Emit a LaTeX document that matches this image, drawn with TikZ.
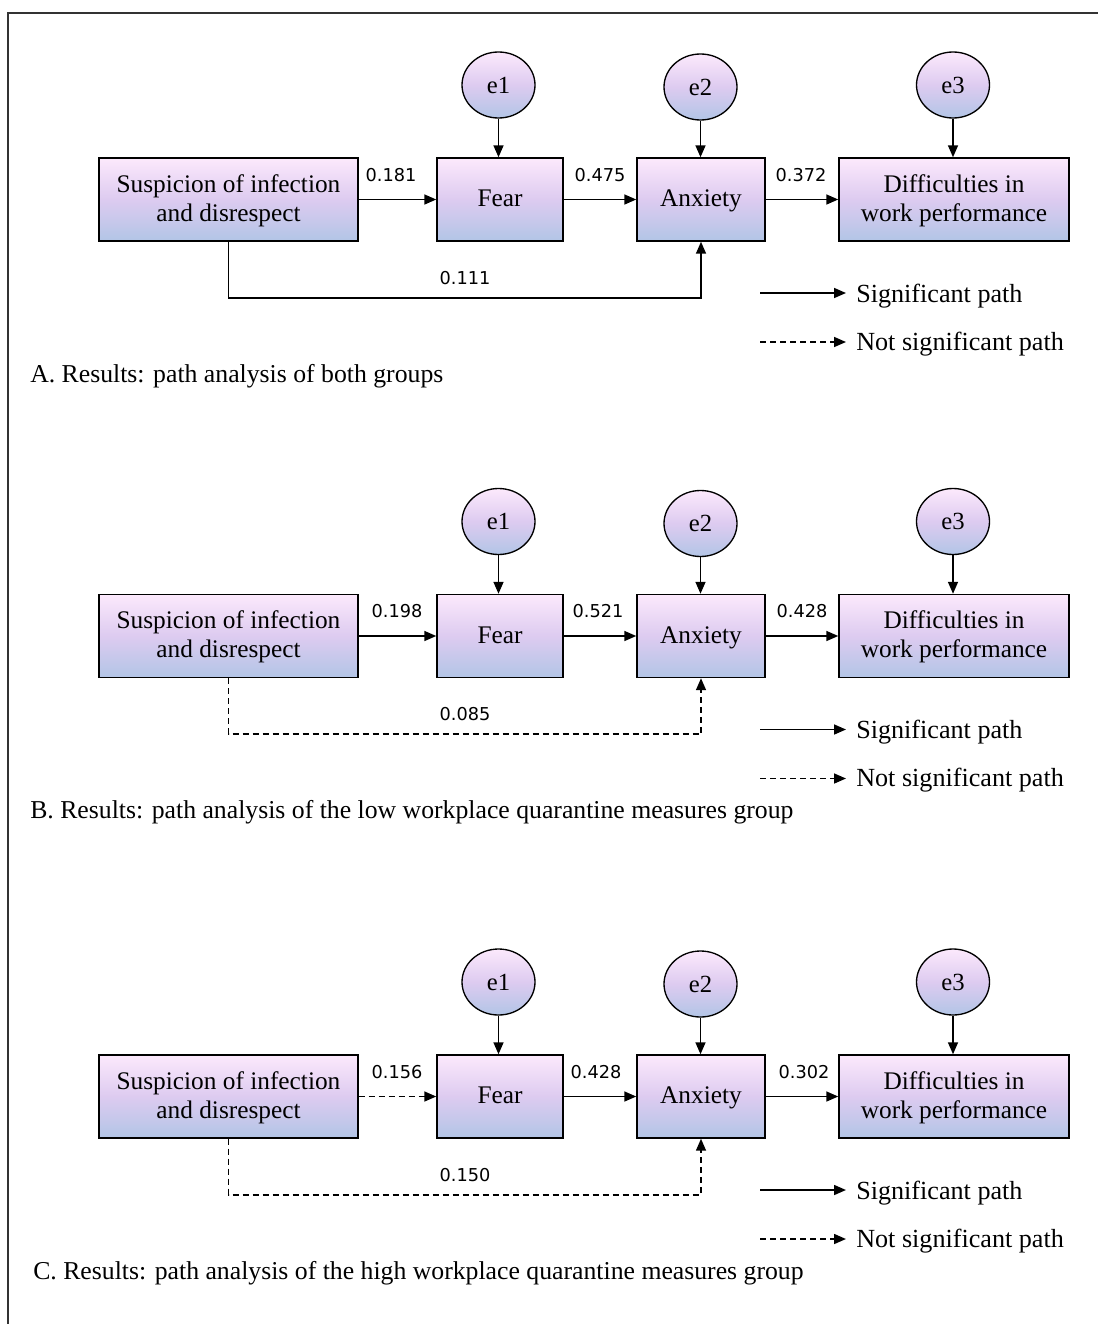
\documentclass[tikz,border=0pt]{standalone}
\usepackage{fontspec}
\setmainfont{Liberation Serif}
\newfontfamily\numfont{DejaVu Sans}
\usetikzlibrary{arrows.meta,shapes.geometric}
\definecolor{boxtop}{HTML}{FCE9FC}
\definecolor{boxmid}{HTML}{DDCBF0}
\definecolor{boxbot}{HTML}{B2C5E6}
\tikzset{
  box/.style={draw=black, line width=1.1pt, top color=boxtop, bottom color=boxbot, middle color=boxmid,
    minimum height=62.25pt, inner sep=0pt, align=center, text height=15pt, text depth=3.8pt,
    font=\fontsize{19}{21.75}\selectfont},
  twoline/.style={text height=36.75pt},
  err/.style={ellipse, draw=black, line width=1pt, top color=boxtop, bottom color=boxbot, middle color=boxmid,
    minimum width=54.75pt, minimum height=49.5pt, inner sep=0pt, font=\fontsize{18.5}{21}\selectfont},
  sigpath/.style={draw=black, line width=1.2pt, -{Triangle[length=9pt,width=7.5pt]}},
  nsigpath/.style={sigpath, dash pattern=on 4.5pt off 3pt},
  num/.style={font=\numfont\fontsize{13.3}{16}\selectfont, inner sep=0pt},
  legtext/.style={anchor=base west, inner sep=0pt, font=\fontsize{19.6}{21}\selectfont},
  captext/.style={anchor=base west, inner sep=0pt, font=\fontsize{19.3}{21}\selectfont},
}
\begin{document}
\begin{tikzpicture}[x=0.75pt,y=-0.75pt]
\useasboundingbox (0,0) rectangle (1098,1324);
\clip (0,0) rectangle (1098,1324);
\fill[white] (0,0) rectangle (1098,1324);
\draw[line width=1.5pt, black!80] (8,1340) -- (8,13) -- (1110,13);
\foreach \p/\dy/\xa/\la/\xb/\lb/\xc/\lc/\ld/\sa/\sd/\cx/\cap in {
 A/0/391/0.181/600/0.475/801/0.372/0.111/sigpath/sigpath/30/{A. Results: path analysis of both groups},
 B/436.5/397/0.198/598/0.521/802/0.428/0.085/sigpath/nsigpath/30/{B. Results: path analysis of the low workplace quarantine measures group},
 C/897/397/0.156/596/0.428/804/0.302/0.150/nsigpath/nsigpath/33/{C. Results: path analysis of the high workplace quarantine measures group}}{
\begin{scope}[shift={(0,\dy)}]
  \node[box, twoline, minimum width=194.25pt] (\p s) at (228.5,199.5) {Suspicion of infection\\and disrespect};
  \node[box, minimum width=94.5pt] (\p f) at (500,199.5) {Fear};
  \node[box, minimum width=96pt] (\p a) at (701,199.5) {Anxiety};
  \node[box, twoline, minimum width=172.5pt] (\p d) at (954,199.5) {Difficulties in\\work performance};
  \node[err] (\p e1) at (498.5,85) {e1};
  \node[err] (\p e2) at (700.5,87) {e2};
  \node[err] (\p e3) at (953,85) {e3};
  \draw[sigpath] (\p e1.south) -- (\p e1.south |- \p f.north);
  \draw[sigpath] (\p e2.south) -- (\p e2.south |- \p a.north);
  \draw[sigpath] (\p e3.south) -- (\p e3.south |- \p d.north);
  \draw[\sa] (\p s) -- (\p f);
  \draw[sigpath] (\p f) -- (\p a);
  \draw[sigpath] (\p a) -- (\p d);
  \draw[\sd] (\p s.south) -- ++(0,56) -| (\p a.south);
  \node[num] (\p la) at (\xa,175) {\la};
  \node[num] (\p lb) at (\xb,175) {\lb};
  \node[num] (\p lc) at (\xc,175) {\lc};
  \node[num] (\p ld) at (465,278) {\ld};
  \coordinate (\p g1) at (760,293);
  \coordinate (\p g1e) at (846,293);
  \coordinate (\p g2) at (760,342);
  \coordinate (\p g2e) at (846,342);
  \draw[sigpath] (\p g1) -- (\p g1e);
  \draw[nsigpath] (\p g2) -- (\p g2e);
  \node[legtext] (\p t1) at (856,302) {Significant path};
  \node[legtext] (\p t2) at (856,350) {Not significant path};
  \node[captext] (\p cap) at (\cx,382) {\cap};
\end{scope}
}
\end{tikzpicture}
\end{document}
